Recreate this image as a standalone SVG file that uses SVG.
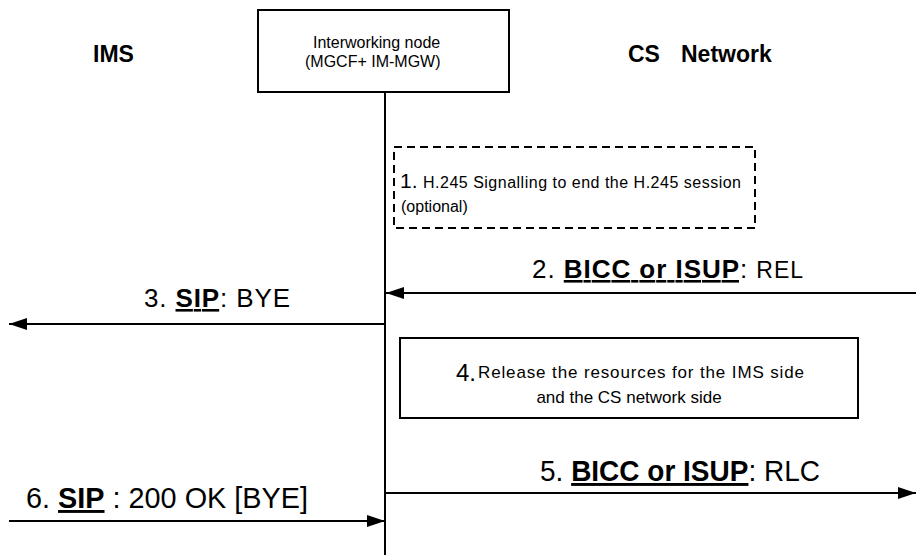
<svg xmlns="http://www.w3.org/2000/svg" width="916" height="555" viewBox="0 0 916 555">
<style>
text{font-family:"Liberation Sans",Arial,sans-serif;fill:#000}
.hd{font-size:23px;font-weight:bold}
.sm{font-size:16px}
.m{font-size:26px}
.n{font-size:29px}
.b{font-weight:bold;text-decoration:underline}
.ln{stroke:#000;stroke-width:2;fill:none}
</style>
<defs>
<marker id="ah" markerUnits="userSpaceOnUse" markerWidth="18" markerHeight="12" refX="18" refY="6" orient="auto">
<path d="M0,0 L18,6 L0,12 Z" fill="#000"/>
</marker>
</defs>
<rect width="916" height="555" fill="#fff"/>
<g id="ims"><text class="hd" x="93" y="62">IMS</text></g>
<g id="cs"><text class="hd" x="628" y="62">CS</text><text class="hd" x="681" y="62">Network</text></g>
<g id="iwn">
<rect x="258" y="10" width="251" height="82" class="ln"/>
<text class="sm" x="313" y="48">Interworking node</text>
<text class="sm" x="305" y="67">(MGCF+ IM-MGW)</text>
<line x1="385" y1="92" x2="385" y2="555" class="ln"/>
</g>
<g id="step1">
<rect x="394" y="147" width="361" height="81" class="ln" stroke-dasharray="8,5"/>
<text x="400" y="188" style="font-size:21px">1.</text>
<text class="sm" x="423" y="188" textLength="318">H.245 Signalling to end the H.245 session</text>
<text class="sm" x="401" y="212">(optional)</text>
</g>
<g id="step4">
<rect x="400" y="338" width="458" height="80" class="ln"/>
<text x="456" y="381" style="font-size:24px">4.</text>
<text x="478" y="378" style="font-size:17px" textLength="326">Release the resources for the IMS side</text>
<text x="629" y="403" style="font-size:17px" text-anchor="middle">and the CS network side</text>
</g>
<g id="connectors">
<line x1="916" y1="293" x2="386" y2="293" class="ln" marker-end="url(#ah)"/>
<line x1="385" y1="324" x2="9" y2="324" class="ln" marker-end="url(#ah)"/>
<line x1="385" y1="493" x2="916" y2="493" class="ln" marker-end="url(#ah)"/>
<line x1="9" y1="521" x2="385" y2="521" class="ln" marker-end="url(#ah)"/>
<text class="m" x="532" y="278" textLength="271">2. <tspan class="b">BICC or ISUP</tspan>: <tspan style="font-size:23px">REL</tspan></text>
<text class="m" x="144" y="307" textLength="146">3. <tspan class="b">SIP</tspan>: BYE</text>
<text class="n" x="540" y="481" textLength="280" lengthAdjust="spacingAndGlyphs">5. <tspan class="b">BICC or ISUP</tspan>: RLC</text>
<text class="n" x="26" y="508" textLength="282" lengthAdjust="spacingAndGlyphs">6. <tspan class="b">SIP</tspan> : 200 OK [BYE]</text>
</g>
</svg>
